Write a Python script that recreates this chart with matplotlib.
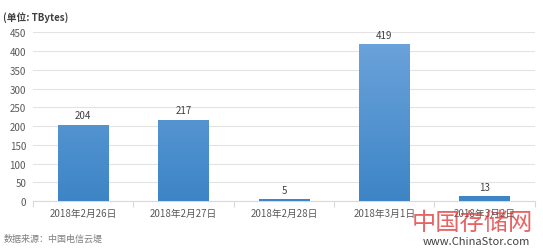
import matplotlib
matplotlib.use("Agg")
import matplotlib.pyplot as plt
import numpy as np
from matplotlib.colors import LinearSegmentedColormap

plt.rcParams['font.family'] = ['Noto Sans CJK SC', 'DejaVu Sans']

categories = ["2018年2月26日", "2018年2月27日", "2018年2月28日", "2018年3月1日", "2018年3月2日"]
values = [204, 217, 5, 419, 13]
yticks = [0, 50, 100, 150, 200, 250, 300, 350, 400, 450]

fig = plt.figure(figsize=(5.43, 2.51), dpi=100)
ax = fig.add_axes([0.0608, 0.195, 0.924, 0.672])

x = np.arange(len(categories))
width = 0.5
bars = ax.bar(x, values, width=width, color="#5B9BD5", zorder=3)

cmap = LinearSegmentedColormap.from_list("g", ["#3D85C6", "#6EA4DC"])
grad = np.linspace(0, 1, 256).reshape(-1, 1)
for b in bars:
    x0 = b.get_x()
    w = b.get_width()
    im = ax.imshow(grad, cmap=cmap, origin="lower", aspect="auto",
                   extent=[x0, x0 + w, 0, 450], zorder=3)
    im.set_clip_path(b)

for xi, v in zip(x, values):
    ax.text(xi, v + 12, str(v), ha="center", va="bottom", fontsize=7, color="#404040", zorder=4)

ax.set_xlim(-0.5, len(categories) - 0.5)
ax.set_ylim(0, 450)
ax.set_yticks(yticks)
ax.set_yticklabels([str(t) for t in yticks])
ax.set_xticks(x)
ax.set_xticklabels(categories)
ax.set_xticks(np.arange(-0.5, len(categories)), minor=True)
ax.tick_params(axis="x", which="major", length=0, labelsize=7, labelcolor="#595959", pad=5)
ax.tick_params(axis="x", which="minor", length=4, color="#D9D9D9", width=0.8)
ax.tick_params(axis="y", length=0, labelsize=7, labelcolor="#595959", pad=5)
ax.grid(axis="y", color="#E3E3E3", linewidth=0.8, zorder=0)
ax.set_axisbelow(True)
for s in ["top", "right", "left"]:
    ax.spines[s].set_visible(False)
ax.spines["bottom"].set_color("#D9D9D9")
ax.spines["bottom"].set_linewidth(0.8)

fig.text(0.006, 0.93, "(单位: TBytes)", fontsize=7, fontweight="bold", color="#404040", ha="left", va="center")
fig.text(0.006, 0.045, "数据来源：中国电信云堤", fontsize=6.5, color="#7F7F7F", ha="left", va="center")

fig.text(0.87, 0.11, "中国存储网", fontsize=17.5, color="#E03030", alpha=0.75, ha="center", va="center")
fig.text(0.878, 0.035, "www.ChinaStor.com", fontsize=8, color="#404040", ha="center", va="center")

fig.savefig("out.png", dpi=100)
